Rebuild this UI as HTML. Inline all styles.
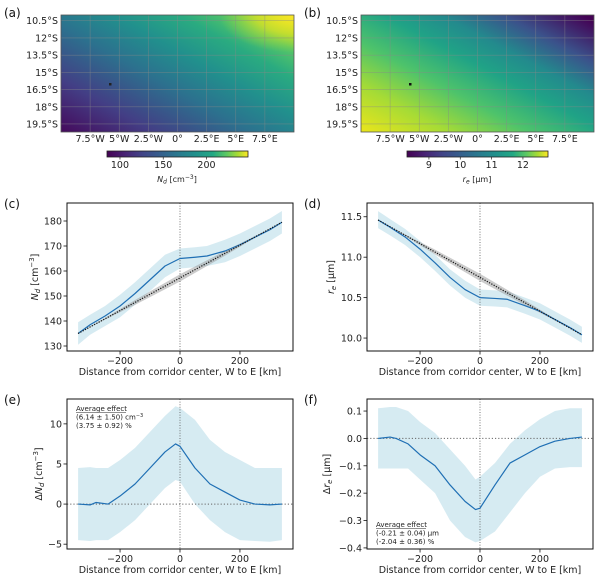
<!DOCTYPE html>
<html><head><meta charset="utf-8">
<style>
html,body{margin:0;padding:0;background:#fff;}
svg{display:block;font-family:"DejaVu Sans","Liberation Sans",sans-serif;}
.t{font-size:9.5px;fill:#222;}
.s{font-size:7px;fill:#222;}
.c{font-size:8px;fill:#222;}
.p{font-size:12px;fill:#111;}
</style></head>
<body>
<svg id="fig" width="600" height="580" viewBox="0 0 600 580" xmlns="http://www.w3.org/2000/svg">
<defs>
<linearGradient id="viridis" x1="0" x2="1" y1="0" y2="0">
<stop offset="0" stop-color="#440154"/><stop offset="0.13" stop-color="#482475"/><stop offset="0.25" stop-color="#414487"/><stop offset="0.38" stop-color="#355f8d"/><stop offset="0.5" stop-color="#2a788e"/><stop offset="0.63" stop-color="#21918c"/><stop offset="0.75" stop-color="#22a884"/><stop offset="0.85" stop-color="#5ec962"/><stop offset="0.93" stop-color="#aadc32"/><stop offset="1" stop-color="#fde725"/>
</linearGradient>
<linearGradient id="gradA" x1="0" y1="1" x2="1" y2="0.1">
<stop offset="0" stop-color="#450a5c"/><stop offset="0.22" stop-color="#433e85"/><stop offset="0.45" stop-color="#2c718e"/><stop offset="0.62" stop-color="#21908d"/><stop offset="0.78" stop-color="#2aab80"/><stop offset="0.9" stop-color="#56c667"/><stop offset="1" stop-color="#a8db34"/>
</linearGradient>
<radialGradient id="cornerA" cx="1" cy="0" r="0.32">
<stop offset="0" stop-color="#fde725" stop-opacity="1"/><stop offset="0.5" stop-color="#e0e322" stop-opacity="0.7"/><stop offset="1" stop-color="#b5de2b" stop-opacity="0"/>
</radialGradient>
<linearGradient id="gradB" x1="0" y1="1" x2="1" y2="0.05">
<stop offset="0" stop-color="#ebe51a"/><stop offset="0.2" stop-color="#a5db36"/><stop offset="0.38" stop-color="#4ec36b"/><stop offset="0.55" stop-color="#20a386"/><stop offset="0.68" stop-color="#238a8d"/><stop offset="0.82" stop-color="#3b528b"/><stop offset="1" stop-color="#440154"/>
</linearGradient>
</defs>
</svg>
<script>
// ---- data arrays ----
const xKm = [-340,-300,-250,-200,-150,-100,-50,0,50,90,150,200,250,300,340];
const ndLine = [135,138.5,142,146,151,156.5,162,165,165.5,166,168,170.5,173.5,176.5,179.5];
const ndUpper = [139.5,142.5,146,150.5,155.5,161,166.5,169,169.5,170,172.5,175,178,181,184];
const ndLower = [130.5,134.5,138,141.5,146.5,152,157.5,161,161.5,162,163.5,166,169,172,175];
const ndFit = [135,179.5];
const reLine = [11.46,11.37,11.25,11.1,10.93,10.75,10.6,10.5,10.49,10.48,10.4,10.33,10.23,10.13,10.04];
const reUpper = [11.57,11.47,11.35,11.2,11.03,10.85,10.71,10.6,10.59,10.58,10.5,10.43,10.33,10.23,10.14];
const reLower = [11.36,11.27,11.15,11.0,10.83,10.65,10.5,10.4,10.39,10.38,10.3,10.23,10.13,10.03,9.94];
const reFit = [11.46,10.04];
const xD = [-340,-300,-280,-240,-200,-150,-100,-50,-15,0,50,100,150,200,250,300,340];
const dNdLine = [0,-0.1,0.2,0,1,2.5,4.5,6.5,7.5,7.2,4.5,2.5,1.5,0.5,0,-0.1,0];
const dNdUpper = [4.5,4.6,4.5,4.5,5.5,7,9,11,12.2,12,10.5,8,6.5,5.5,4.5,4.5,4.5];
const dNdLower = [-4.5,-4.6,-4.5,-4.5,-3.5,-2,0,2,3,2.8,0,-2,-3.5,-4.5,-4.6,-4.7,-4.5];
const dReLine = [0,0.005,0,-0.02,-0.06,-0.1,-0.17,-0.23,-0.26,-0.255,-0.17,-0.09,-0.06,-0.03,-0.01,0,0.005];
const dReUpper = [0.11,0.115,0.115,0.1,0.06,0.02,-0.04,-0.1,-0.15,-0.14,-0.09,-0.02,0.03,0.07,0.1,0.11,0.11];
const dReLower = [-0.11,-0.11,-0.11,-0.11,-0.15,-0.2,-0.3,-0.36,-0.38,-0.375,-0.34,-0.27,-0.2,-0.14,-0.11,-0.105,-0.105];
const xTicks = [-200,0,200];
const ndTicks = [130,140,150,160,170,180];
const reTicks = [10.0,10.5,11.0,11.5];
const dNdTicks = [-5,0,5,10];
const dReTicks = [-0.4,-0.3,-0.2,-0.1,0.0,0.1];
const lonTicks = [-7.5,-5,-2.5,0,2.5,5,7.5];
const lonLabels = ["7.5°W","5°W","2.5°W","0°","2.5°E","5°E","7.5°E"];
const latTicks = [10.5,12,13.5,15,16.5,18,19.5];
const latLabels = ["10.5°S","12°S","13.5°S","15°S","16.5°S","18°S","19.5°S"];
const cbTicksA = [100,150,200];
const cbTicksB = [9,10,11,12];

const NS="http://www.w3.org/2000/svg";
const svg=document.getElementById('fig');
function mk(tag,attrs,parent){const e=document.createElementNS(NS,tag);for(const k in attrs)e.setAttribute(k,attrs[k]);(parent||svg).appendChild(e);return e;}
function lin(d0,d1,r0,r1){return v=>r0+(v-d0)*(r1-r0)/(d1-d0);}
function txt(x,y,s,cls,anchor,parent){const e=mk('text',{x:x,y:y,class:cls,'text-anchor':anchor||'middle'},parent);e.textContent=s;return e;}

// ---- maps ----
function mapPanel(ox,grad,label,cbTicks,cbMin,cbMax,cbLabelHtml,dotColor){
  const g=mk('g',{});
  
  
  const x0=ox+61,x1=ox+294,y0=15,y1=132;
  const lx=lin(-10,10,x0,x1), ly=lin(10,20.2,y0,y1);
  const r=mk('rect',{x:x0,y:y0,width:x1-x0,height:y1-y0,fill:'url(#'+grad+')'},g);
  
  
  if(label==='a'){const c=mk('rect',{x:x0,y:y0,width:x1-x0,height:y1-y0,fill:'url(#cornerA)'},g);
    
    }
  lonTicks.forEach((v,i)=>{const X=lx(v);
    const l=mk('line',{x1:X,x2:X,y1:y0,y2:y1,stroke:'#888',"stroke-width":0.6,"stroke-opacity":0.6},g);
    
    
    const t=txt(X,142,lonLabels[i],'t','middle',g);
    
    });
  latTicks.forEach((v,i)=>{const Y=ly(v);
    const l=mk('line',{x1:x0,x2:x1,y1:Y,y2:Y,stroke:'#888',"stroke-width":0.6,"stroke-opacity":0.6},g);
    
    
    const t=txt(x0-3,Y+3.5,latLabels[i],'t','end',g);
    
    });
  const fr=mk('rect',{x:x0,y:y0,width:x1-x0,height:y1-y0,fill:'none',stroke:'#555','stroke-width':0.8},g);
  
  
  const d=mk('rect',{x:ox+109,y:83,width:2.5,height:2.5,fill:dotColor},g);
  
  
  const pl=txt(ox+4,17,'('+label+')','p','start',g);
  
  
  const cx0=ox+107,cx1=ox+248, cs=lin(cbMin,cbMax,cx0,cx1);
  const cb=mk('rect',{x:cx0,y:151,width:cx1-cx0,height:6,fill:'url(#viridis)',stroke:'#222','stroke-width':0.8},g);
  
  
  cbTicks.forEach(v=>{const X=cs(v);
    mk('line',{x1:X,x2:X,y1:157,y2:159.5,stroke:'#222','stroke-width':0.7},g);
    const t=txt(X,168,String(v),'t','middle',g);
    
    });
  const cl=mk('text',{x:ox+177,y:182,class:'c','text-anchor':'middle'},g);
  cl.innerHTML=cbLabelHtml;
  
  
}
mapPanel(0,'gradA','a',cbTicksA,85,248,'<tspan font-style="italic">N</tspan><tspan font-style="italic" font-size="6" dy="1.5">d</tspan><tspan dy="-1.5"> [cm</tspan><tspan font-size="6" dy="-3">−3</tspan><tspan dy="3">]</tspan>','#222');
mapPanel(300,'gradB','b',cbTicksB,8.3,12.8,'<tspan font-style="italic">r</tspan><tspan font-style="italic" font-size="6" dy="1.5">e</tspan><tspan dy="-1.5"> [μm]</tspan>','#111');

// ---- line panels ----
function linePanel(o){
  const g=mk('g',{});
  
  
  const x0=o.ox+67,x1=o.ox+293,y0=o.y0,y1=o.y1;
  const sx=lin(-377,377,x0,x1), sy=lin(o.ymin,o.ymax,y1,y0);
  let d='';o.xs.forEach((x,i)=>{d+=(i?'L':'M')+sx(x)+','+sy(o.up[i]);});
  for(let i=o.xs.length-1;i>=0;i--)d+='L'+sx(o.xs[i])+','+sy(o.lo[i]);
  const band=mk('path',{d:d+'Z',fill:'#add8e6','fill-opacity':0.5},g);
  
  
  if(o.fit){const xa=o.xs[0],xb=o.xs[o.xs.length-1];
    const f=t=>o.fit[0]+(o.fit[1]-o.fit[0])*t;
    const pts=[[xa,0,0],[-250,90/680,0.8],[-150,190/680,2.4],[0,0.5,3.6],[150,490/680,2.4],[250,590/680,0.8],[xb,1,0]];
    let fd='';pts.forEach((p,i)=>{fd+=(i?'L':'M')+sx(p[0])+','+(sy(f(p[1]))-p[2]);});
    for(let i=pts.length-1;i>=0;i--){const p=pts[i];fd+='L'+sx(p[0])+','+(sy(f(p[1]))+p[2]);}
    const fb=mk('path',{d:fd+'Z',fill:'#999','fill-opacity':0.5},g);
    
    }
  const vl=mk('line',{x1:sx(0),x2:sx(0),y1:y0,y2:y1,stroke:'#555','stroke-width':0.8,'stroke-dasharray':'1,1.6'},g);
  
  
  if(o.zero){const hl=mk('line',{x1:x0,x2:x1,y1:sy(0),y2:sy(0),stroke:'#666','stroke-width':1,'stroke-dasharray':'1.2,2'},g);
    
    }
  let ld='';o.xs.forEach((x,i)=>{ld+=(i?'L':'M')+sx(x)+','+sy(o.ys[i]);});
  const ln=mk('path',{d:ld,fill:'none',stroke:'#1f6fb4','stroke-width':1.2,'stroke-linejoin':'round'},g);
  
  
  if(o.fit){const fl=mk('line',{x1:sx(o.xs[0]),y1:sy(o.fit[0]),x2:sx(o.xs[o.xs.length-1]),y2:sy(o.fit[1]),stroke:'#111','stroke-width':1.2,'stroke-dasharray':'1.2,1.4'},g);
    
    }
  const fr=mk('rect',{x:x0,y:y0,width:x1-x0,height:y1-y0,fill:'none',stroke:'#111','stroke-width':1},g);
  
  
  xTicks.forEach(v=>{const X=sx(v);mk('line',{x1:X,x2:X,y1:y1,y2:y1+3.5,stroke:'#111','stroke-width':0.8},g);
    const t=txt(X,y1+13,v<0?'−'+(-v):String(v),'t','middle',g);
    
    });
  o.ticks.forEach(v=>{const Y=sy(v);mk('line',{x1:x0-3.5,x2:x0,y1:Y,y2:Y,stroke:'#111','stroke-width':0.8},g);
    let s=v.toFixed(o.dec);if(v<0)s='−'+s.slice(1);
    const t=txt(x0-5,Y+3.5,s,'t','end',g);
    
    });
  const xl=txt((x0+x1)/2,y1+24,'Distance from corridor center, W to E [km]','t','middle',g);
  
  
  const yl=mk('text',{x:0,y:0,class:'t','text-anchor':'middle',transform:'translate('+(o.ox+o.ylx)+','+((y0+y1)/2)+') rotate(-90)'},g);
  yl.innerHTML=o.ylab;
  
  
  const pl=txt(o.ox+4,y0+5,'('+o.label+')','p','start',g);
  
  
  if(o.note){const ny=o.note.y;
    const a=txt(o.ox+76,ny,'Average effect','s','start',g);
    
    
    mk('line',{x1:o.ox+76,x2:o.ox+126,y1:ny+1.3,y2:ny+1.3,stroke:'#222','stroke-width':0.5},g);
    const b=mk('text',{x:o.ox+76,y:ny+8.5,class:'s'},g);b.innerHTML=o.note.l1;
    
    
    const c=txt(o.ox+76,ny+17,o.note.l2,'s','start',g);
    
    }
}
const ndLab='<tspan font-style="italic">N</tspan><tspan font-style="italic" font-size="7" dy="2">d</tspan><tspan dy="-2"> [cm</tspan><tspan font-size="7" dy="-4">−3</tspan><tspan dy="4">]</tspan>';
const reLab='<tspan font-style="italic">r</tspan><tspan font-style="italic" font-size="7" dy="2">e</tspan><tspan dy="-2"> [μm]</tspan>';
linePanel({label:'c',ox:0,y0:203,y1:351,ymin:128,ymax:187.2,xs:xKm,ys:ndLine,up:ndUpper,lo:ndLower,fit:ndFit,ticks:ndTicks,dec:0,ylx:38,ylab:ndLab});
linePanel({label:'d',ox:300,y0:203,y1:351,ymin:9.84,ymax:11.67,xs:xKm,ys:reLine,up:reUpper,lo:reLower,fit:reFit,ticks:reTicks,dec:1,ylx:34,ylab:reLab});
linePanel({label:'e',ox:0,y0:399,y1:549,ymin:-5.6,ymax:13.1,xs:xD,ys:dNdLine,up:dNdUpper,lo:dNdLower,zero:true,ticks:dNdTicks,dec:0,ylx:42,ylab:'Δ'+ndLab,
  note:{y:411,l1:'(6.14 ± 1.50) cm<tspan font-size="5" dy="-2.5">−3</tspan>',l2:'(3.75 ± 0.92) %'}});
linePanel({label:'f',ox:300,y0:399,y1:549,ymin:-0.404,ymax:0.144,xs:xD,ys:dReLine,up:dReUpper,lo:dReLower,zero:true,ticks:dReTicks,dec:1,ylx:30,ylab:'Δ'+reLab,
  note:{y:527,l1:'(-0.21 ± 0.04) μm',l2:'(-2.04 ± 0.36) %'}});
</script>
</body></html>
